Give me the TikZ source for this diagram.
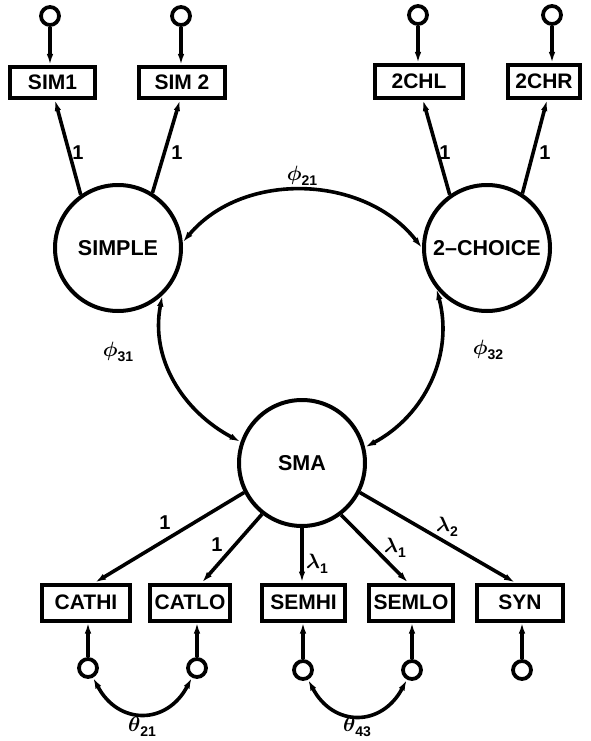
\documentclass[tikz,border=0pt]{standalone}
\usepackage{amsmath}
\usepackage{fontspec}
\setmainfont{Liberation Sans}
\usetikzlibrary{arrows.meta}

% Greek parameter label with a sans-serif subscript
\newcommand{\parlab}[2]{$\boldsymbol{#1}$\raisebox{-0.45ex}{\fontsize{14}{14}\selectfont\bfseries #2}}

\tikzset{
  latent/.style={circle, draw, line width=4pt, minimum size=126pt, inner sep=0pt,
    font=\fontsize{21.5}{21.5}\selectfont\bfseries},
  manifest/.style={rectangle, draw, line width=4pt, inner sep=0pt,
    font=\fontsize{21}{21}\selectfont\bfseries},
  errc/.style={circle, draw, line width=3.8pt, minimum size=18pt, inner sep=0pt},
  tip/.tip={Latex[length=11pt,width=6.5pt]},
  pathline/.style={line width=3.6pt, -tip},
  covline/.style={line width=3.6pt, tip-tip},
  numlab/.style={font=\fontsize{20}{20}\selectfont\bfseries, inner sep=0pt},
  greeklab/.style={font=\fontsize{22}{22}\selectfont, inner sep=0pt}
}

\begin{document}
\begin{tikzpicture}[x=1pt, y=-1pt]
  \fill[white] (0,0) rectangle (591,741);
  \useasboundingbox (0,0) rectangle (591,741);

  % latent factors
  \node[latent] (simple) at (118,248) {SIMPLE};
  \node[latent] (choice) at (487,248) {2--CHOICE};
  \node[latent] (sma)    at (302,463) {SMA};

  % indicators of the reaction-time factors
  \node[manifest, minimum width=85pt, minimum height=31pt] (sim1) at (52.5,82.5) {SIM1};
  \node[manifest, minimum width=86pt, minimum height=31pt] (sim2) at (182,82.5) {SIM 2};
  \node[manifest, minimum width=88pt, minimum height=33pt] (chl)  at (419,81.5) {2CHL};
  \node[manifest, minimum width=72pt, minimum height=33pt] (chr)  at (544,81.5) {2CHR};

  % indicators of SMA
  \node[manifest, minimum width=88pt, minimum height=36pt] (cathi) at (86,602.5) {CATHI};
  \node[manifest, minimum width=80pt, minimum height=36pt] (catlo) at (190,602.5) {CATLO};
  \node[manifest, minimum width=83pt, minimum height=36pt] (semhi) at (303.5,602.5) {SEMHI};
  \node[manifest, minimum width=84pt, minimum height=36pt] (semlo) at (411,602.5) {SEMLO};
  \node[manifest, minimum width=86pt, minimum height=36pt] (syn)   at (520,602.5) {SYN};

  % residual terms
  \node[errc] (e1) at (50,16) {};
  \node[errc] (e2) at (181,16) {};
  \node[errc] (e3) at (418,15) {};
  \node[errc] (e4) at (552,15) {};
  \node[errc] (d1) at (88,668) {};
  \node[errc] (d2) at (197,668) {};
  \node[errc] (d3) at (303,670) {};
  \node[errc] (d4) at (412,670) {};
  \node[errc] (d5) at (522,670) {};

  \draw[pathline] (e1) -- (e1 |- sim1.north);
  \draw[pathline] (e2) -- (e2 |- sim2.north);
  \draw[pathline] (e3) -- (e3 |- chl.north);
  \draw[pathline] (e4) -- (e4 |- chr.north);
  \draw[pathline] (d1) -- (d1 |- cathi.south);
  \draw[pathline] (d2) -- (d2 |- catlo.south);
  \draw[pathline] (d3) -- (d3 |- semhi.south);
  \draw[pathline] (d4) -- (d4 |- semlo.south);
  \draw[pathline] (d5) -- (d5 |- syn.south);

  % loadings
  \draw[pathline] (simple.125) -- ([xshift=2.5pt]sim1.south);
  \draw[pathline] (simple.58)  -- ([xshift=-2pt]sim2.south);
  \draw[pathline] (choice.125) -- ([xshift=4pt]chl.south);
  \draw[pathline] (choice.57)  -- ([xshift=3pt]chr.south);

  \draw[pathline] (sma.207) -- ([xshift=9pt]cathi.north);
  \draw[pathline] (sma.232) -- ([xshift=12pt]catlo.north);
  \draw[pathline] (sma.south) -- (sma.south |- semhi.north);
  \draw[pathline] (sma.-53) -- ([xshift=-3pt]semlo.north);
  \draw[pathline] (sma.-27) -- ([xshift=-5pt]syn.north);

  % factor covariances
  \draw[covline] (simple.5) to[out=50, in=128] (choice.180);
  \draw[covline] (simple.-47) to[out=-101, in=152] (sma.161);
  \draw[covline] (choice.219) to[out=-75, in=28] (sma.14);

  % correlated residuals
  \draw[covline] (d1.-62) to[out=-62, in=-118, looseness=1.4] (d2.-118);
  \draw[covline] (d3.-62) to[out=-62, in=-118, looseness=1.4] (d4.-118);

  % parameter labels
  \node[numlab] (l1) at (78,153)  {1};
  \node[numlab] (l2) at (177,153) {1};
  \node[numlab] (l3) at (445,153) {1};
  \node[numlab] (l4) at (545,153) {1};
  \node[numlab] (l5) at (165,523) {1};
  \node[numlab] (l6) at (217,545) {1};

  \node[greeklab] (p21) at (302,176) {\parlab{\phi}{21}};
  \node[greeklab] (p31) at (118,352) {\parlab{\phi}{31}};
  \node[greeklab] (p32) at (488,350) {\parlab{\phi}{32}};

  \node[greeklab] (lam1) at (317,564) {\parlab{\lambda}{1}};
  \node[greeklab] (lam2) at (395,548) {\parlab{\lambda}{1}};
  \node[greeklab] (lam3) at (447,527) {\parlab{\lambda}{2}};

  \node[greeklab] (t21) at (142,727) {\parlab{\theta}{21}};
  \node[greeklab] (t43) at (357,727) {\parlab{\theta}{43}};
\end{tikzpicture}
\end{document}
